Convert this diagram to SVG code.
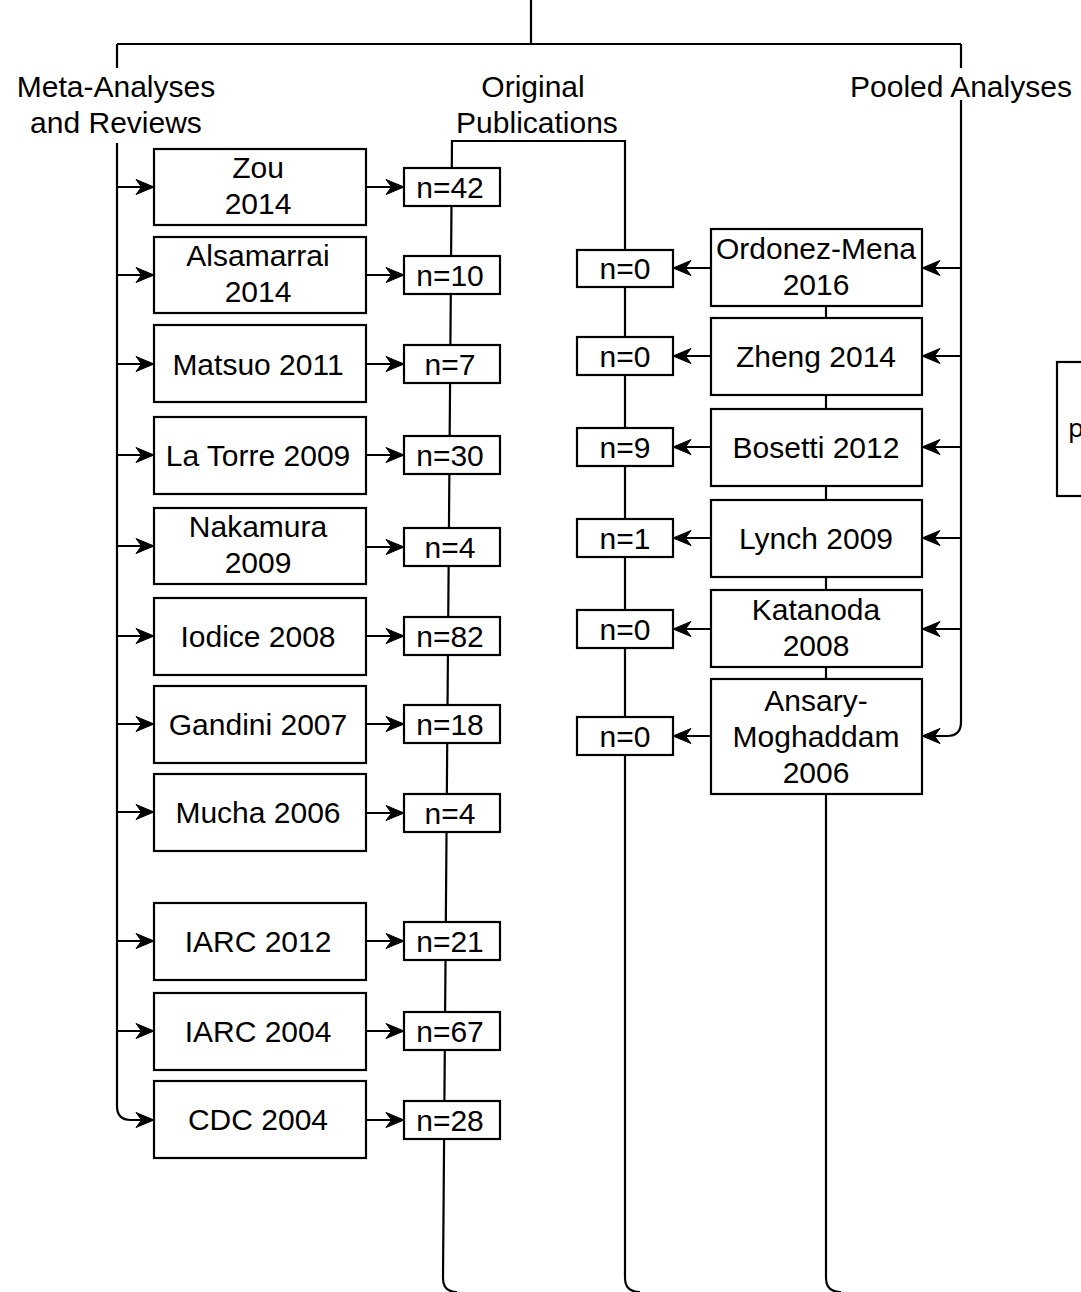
<svg xmlns="http://www.w3.org/2000/svg" xmlns:xlink="http://www.w3.org/1999/xlink" width="1081" height="1292" viewBox="0 0 1081 1292">
<defs>
<style>
.ln{fill:none;stroke:#000;stroke-width:2.2}
.bx{fill:#fff;stroke:#000;stroke-width:2.2}
.t{font-family:"Liberation Sans",Arial,sans-serif;font-size:30px;fill:#000;text-anchor:middle}
.ah{fill:#000;stroke:#000;stroke-width:1;stroke-linejoin:miter}
</style>
<path id="ahR" class="ah" d="M0,0 L-18,-7.5 L-12.5,0 L-18,7.5 Z"/>
<path id="ahL" class="ah" d="M0,0 L18,-7.5 L12.5,0 L18,7.5 Z"/>
</defs>
<rect width="1081" height="1292" fill="#fff"/>

<g id="connectors">
<path class="ln" d="M531,0 V44 M117,44 H961 M117,44 V68 M961,44 V68"/>
<path class="ln" d="M457,1292 Q443,1292 443,1278 L452,141 H625 V1278 Q625,1292 640,1292"/>
<path class="ln" d="M826,306 V1278 Q826,1292 841,1292"/>
<path class="ln" d="M117,143 V1106 Q117,1120 131,1120 H144"/>
<path class="ln" d="M961,100 V722 Q961,736 947,736 H932"/>
<path class="ln" d="M117,187 H144 M117,275 H144 M117,364 H144 M117,455 H144 M117,546 H144 M117,636 H144 M117,724 H144 M117,812 H144 M117,941 H144 M117,1031 H144"/>
<path class="ln" d="M366,187 H394 M366,275 H394 M366,364 H394 M366,455 H394 M366,547 H394 M366,636 H394 M366,724 H394 M366,813 H394 M366,941 H394 M366,1031 H394 M366,1120 H394"/>
<path class="ln" d="M961,268 H932 M961,356 H932 M961,447 H932 M961,538 H932 M961,629 H932"/>
<path class="ln" d="M711,268 H683 M711,356 H683 M711,447 H683 M711,538 H683 M711,629 H683 M711,736 H683"/>
<use xlink:href="#ahR" x="154" y="187"/><use xlink:href="#ahR" x="154" y="275"/><use xlink:href="#ahR" x="154" y="364"/><use xlink:href="#ahR" x="154" y="455"/><use xlink:href="#ahR" x="154" y="546"/><use xlink:href="#ahR" x="154" y="636"/><use xlink:href="#ahR" x="154" y="724"/><use xlink:href="#ahR" x="154" y="812"/><use xlink:href="#ahR" x="154" y="941"/><use xlink:href="#ahR" x="154" y="1031"/><use xlink:href="#ahR" x="154" y="1120"/>
<use xlink:href="#ahR" x="404" y="187"/><use xlink:href="#ahR" x="404" y="275"/><use xlink:href="#ahR" x="404" y="364"/><use xlink:href="#ahR" x="404" y="455"/><use xlink:href="#ahR" x="404" y="547"/><use xlink:href="#ahR" x="404" y="636"/><use xlink:href="#ahR" x="404" y="724"/><use xlink:href="#ahR" x="404" y="813"/><use xlink:href="#ahR" x="404" y="941"/><use xlink:href="#ahR" x="404" y="1031"/><use xlink:href="#ahR" x="404" y="1120"/>
<use xlink:href="#ahL" x="922" y="268"/><use xlink:href="#ahL" x="922" y="356"/><use xlink:href="#ahL" x="922" y="447"/><use xlink:href="#ahL" x="922" y="538"/><use xlink:href="#ahL" x="922" y="629"/><use xlink:href="#ahL" x="922" y="736"/>
<use xlink:href="#ahL" x="673" y="268"/><use xlink:href="#ahL" x="673" y="356"/><use xlink:href="#ahL" x="673" y="447"/><use xlink:href="#ahL" x="673" y="538"/><use xlink:href="#ahL" x="673" y="629"/><use xlink:href="#ahL" x="673" y="736"/>
</g>

<g id="headers">
<text class="t" x="116" y="97">Meta-Analyses</text>
<text class="t" x="116" y="133">and Reviews</text>
<text class="t" x="533" y="97">Original</text>
<text class="t" x="537" y="133">Publications</text>
<text class="t" x="961" y="97">Pooled Analyses</text>
</g>

<g id="zou"><rect class="bx" x="154" y="149" width="212" height="76"/><text class="t" x="258" y="178">Zou</text><text class="t" x="258" y="214">2014</text></g>
<g id="alsamarrai"><rect class="bx" x="154" y="237" width="212" height="76"/><text class="t" x="258" y="266">Alsamarrai</text><text class="t" x="258" y="302">2014</text></g>
<g id="matsuo"><rect class="bx" x="154" y="325" width="212" height="77"/><text class="t" x="258" y="375">Matsuo 2011</text></g>
<g id="latorre"><rect class="bx" x="154" y="417" width="212" height="77"/><text class="t" x="258" y="466">La Torre 2009</text></g>
<g id="nakamura"><rect class="bx" x="154" y="508" width="212" height="76"/><text class="t" x="258" y="537">Nakamura</text><text class="t" x="258" y="573">2009</text></g>
<g id="iodice"><rect class="bx" x="154" y="598" width="212" height="77"/><text class="t" x="258" y="647">Iodice 2008</text></g>
<g id="gandini"><rect class="bx" x="154" y="686" width="212" height="77"/><text class="t" x="258" y="735">Gandini 2007</text></g>
<g id="mucha"><rect class="bx" x="154" y="774" width="212" height="77"/><text class="t" x="258" y="823">Mucha 2006</text></g>
<g id="iarc2012"><rect class="bx" x="154" y="903" width="212" height="77"/><text class="t" x="258" y="952">IARC 2012</text></g>
<g id="iarc2004"><rect class="bx" x="154" y="993" width="212" height="77"/><text class="t" x="258" y="1042">IARC 2004</text></g>
<g id="cdc2004"><rect class="bx" x="154" y="1081" width="212" height="77"/><text class="t" x="258" y="1130">CDC 2004</text></g>

<g id="n42"><rect class="bx" x="404" y="168" width="96" height="38"/><text class="t" x="450" y="198">n=42</text></g>
<g id="n10"><rect class="bx" x="404" y="256" width="96" height="38"/><text class="t" x="450" y="286">n=10</text></g>
<g id="n7"><rect class="bx" x="404" y="345" width="96" height="38"/><text class="t" x="450" y="375">n=7</text></g>
<g id="n30"><rect class="bx" x="404" y="436" width="96" height="38"/><text class="t" x="450" y="466">n=30</text></g>
<g id="n4a"><rect class="bx" x="404" y="528" width="96" height="38"/><text class="t" x="450" y="558">n=4</text></g>
<g id="n82"><rect class="bx" x="404" y="617" width="96" height="38"/><text class="t" x="450" y="647">n=82</text></g>
<g id="n18"><rect class="bx" x="404" y="705" width="96" height="38"/><text class="t" x="450" y="735">n=18</text></g>
<g id="n4b"><rect class="bx" x="404" y="794" width="96" height="38"/><text class="t" x="450" y="824">n=4</text></g>
<g id="n21"><rect class="bx" x="404" y="922" width="96" height="38"/><text class="t" x="450" y="952">n=21</text></g>
<g id="n67"><rect class="bx" x="404" y="1012" width="96" height="38"/><text class="t" x="450" y="1042">n=67</text></g>
<g id="n28"><rect class="bx" x="404" y="1101" width="96" height="38"/><text class="t" x="450" y="1131">n=28</text></g>

<g id="ordonez"><rect class="bx" x="711" y="229" width="211" height="77"/><text class="t" x="816" y="259">Ordonez-Mena</text><text class="t" x="816" y="295">2016</text></g>
<g id="zheng"><rect class="bx" x="711" y="318" width="211" height="77"/><text class="t" x="816" y="367">Zheng 2014</text></g>
<g id="bosetti"><rect class="bx" x="711" y="409" width="211" height="77"/><text class="t" x="816" y="458">Bosetti 2012</text></g>
<g id="lynch"><rect class="bx" x="711" y="500" width="211" height="77"/><text class="t" x="816" y="549">Lynch 2009</text></g>
<g id="katanoda"><rect class="bx" x="711" y="590" width="211" height="77"/><text class="t" x="816" y="620">Katanoda</text><text class="t" x="816" y="656">2008</text></g>
<g id="ansary"><rect class="bx" x="711" y="679" width="211" height="115"/><text class="t" x="816" y="711">Ansary-</text><text class="t" x="816" y="747">Moghaddam</text><text class="t" x="816" y="783">2006</text></g>

<g id="r0a"><rect class="bx" x="577" y="250" width="96" height="37"/><text class="t" x="625" y="279">n=0</text></g>
<g id="r0b"><rect class="bx" x="577" y="337" width="96" height="38"/><text class="t" x="625" y="367">n=0</text></g>
<g id="r9"><rect class="bx" x="577" y="428" width="96" height="38"/><text class="t" x="625" y="458">n=9</text></g>
<g id="r1"><rect class="bx" x="577" y="519" width="96" height="38"/><text class="t" x="625" y="549">n=1</text></g>
<g id="r0c"><rect class="bx" x="577" y="610" width="96" height="38"/><text class="t" x="625" y="640">n=0</text></g>
<g id="r0d"><rect class="bx" x="577" y="717" width="96" height="38"/><text class="t" x="625" y="747">n=0</text></g>

<g id="partial"><rect class="bx" x="1057" y="362" width="40" height="134"/><text x="1068" y="437" style="font-family:'Noto Sans','Open Sans',sans-serif;font-size:26px;fill:#000">p</text></g>
</svg>
